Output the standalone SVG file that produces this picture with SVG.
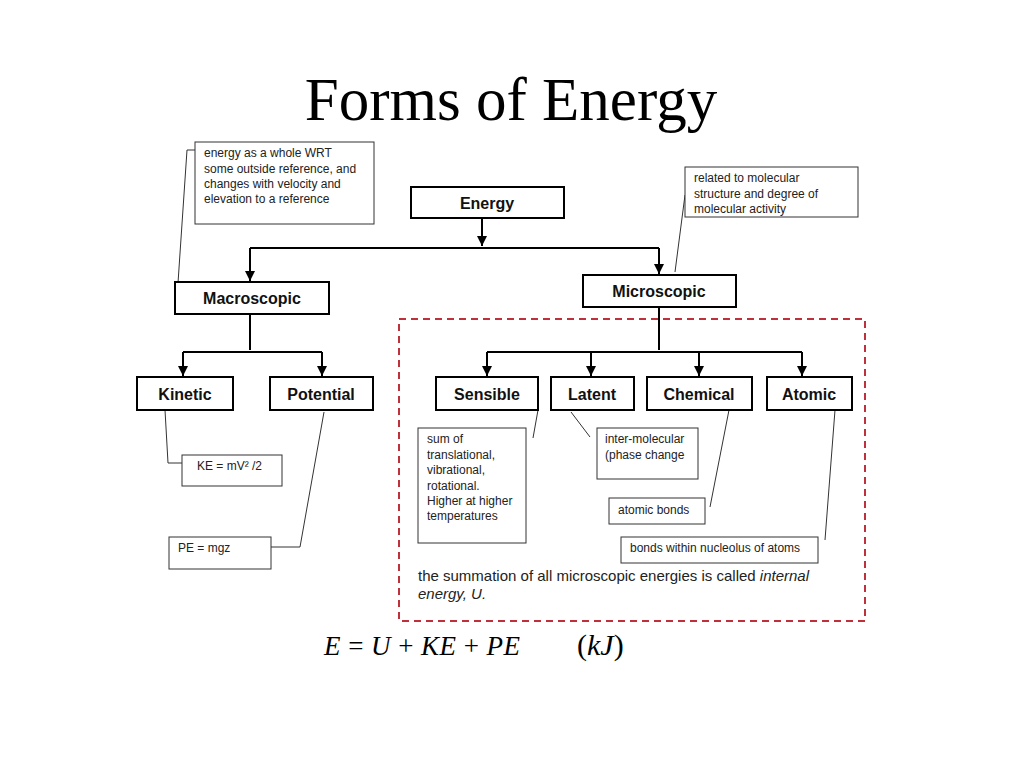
<svg xmlns="http://www.w3.org/2000/svg" width="1024" height="768" viewBox="0 0 1024 768">
<defs>
<marker id="ar" viewBox="0 0 10 10" refX="10" refY="5" markerWidth="5" markerHeight="5" orient="auto"><path d="M0,0L10,5L0,10z" fill="#000"/></marker>
<style>
.n{fill:#fff;stroke:#000;stroke-width:2}
.m{fill:#fff;stroke:#333;stroke-width:1}
.t{font-family:"Liberation Sans",Arial,sans-serif;font-size:16px;font-weight:bold;fill:#111;text-anchor:middle}
.s{font-family:"Liberation Sans",Arial,sans-serif;font-size:12px;fill:#222}
.c{stroke:#000;stroke-width:2;fill:none}
.l{stroke:#333;stroke-width:1;fill:none}
</style>
</defs>
<rect width="1024" height="768" fill="#fff"/>
<text x="511" y="120" font-family="Liberation Serif,serif" font-size="61" text-anchor="middle">Forms of Energy</text>
<rect x="399" y="319" width="466" height="302" fill="none" stroke="#c0303a" stroke-width="2" stroke-dasharray="7,5"/>
<g id="connectors">
<path class="c" d="M482,218V246" marker-end="url(#ar)"/>
<path class="c" d="M250,248H659"/>
<path class="c" d="M250,248V281" marker-end="url(#ar)"/>
<path class="c" d="M659,248V274" marker-end="url(#ar)"/>
<path class="c" d="M250,314V350"/>
<path class="c" d="M183,352H322"/>
<path class="c" d="M183,352V376" marker-end="url(#ar)"/>
<path class="c" d="M322,352V376" marker-end="url(#ar)"/>
<path class="c" d="M659,307V350"/>
<path class="c" d="M487,352H802"/>
<path class="c" d="M487,352V376" marker-end="url(#ar)"/>
<path class="c" d="M591,352V376" marker-end="url(#ar)"/>
<path class="c" d="M699,352V376" marker-end="url(#ar)"/>
<path class="c" d="M802,352V376" marker-end="url(#ar)"/>
<path class="l" d="M178,283L187,150H195"/>
<path class="l" d="M675,272L685,195"/>
<path class="l" d="M165,410L168,463H182"/>
<path class="l" d="M324,412L300,547H271"/>
<path class="l" d="M533,438L538,410"/>
<path class="l" d="M571,412L590,437"/>
<path class="l" d="M710,507L729,410"/>
<path class="l" d="M825,540L835,410"/>
</g>
<g id="note1"><rect class="m" x="195" y="142" width="179" height="82"/>
<text class="s" x="204" y="157">energy as a whole WRT</text><text class="s" x="204" y="173">some outside reference, and</text><text class="s" x="204" y="188">changes with velocity and</text><text class="s" x="204" y="203">elevation to a reference</text></g>
<g id="note2"><rect class="m" x="685" y="167" width="173" height="50"/>
<text class="s" x="694" y="182">related to molecular</text><text class="s" x="694" y="198">structure and degree of</text><text class="s" x="694" y="213">molecular activity</text></g>
<g id="energy"><rect class="n" x="411" y="187" width="153" height="31"/><text class="t" x="487" y="209">Energy</text></g>
<g id="macro"><rect class="n" x="175" y="282" width="154" height="32"/><text class="t" x="252" y="304">Macroscopic</text></g>
<g id="micro"><rect class="n" x="583" y="275" width="153" height="32"/><text class="t" x="659" y="297">Microscopic</text></g>
<g id="kinetic"><rect class="n" x="137" y="377" width="96" height="33"/><text class="t" x="185" y="400">Kinetic</text></g>
<g id="potential"><rect class="n" x="270" y="377" width="103" height="33"/><text class="t" x="321" y="400">Potential</text></g>
<g id="sensible"><rect class="n" x="436" y="377" width="102" height="33"/><text class="t" x="487" y="400">Sensible</text></g>
<g id="latent"><rect class="n" x="551" y="377" width="83" height="33"/><text class="t" x="592" y="400">Latent</text></g>
<g id="chemical"><rect class="n" x="647" y="377" width="105" height="33"/><text class="t" x="699" y="400">Chemical</text></g>
<g id="atomic"><rect class="n" x="767" y="377" width="85" height="33"/><text class="t" x="809" y="400">Atomic</text></g>
<g id="ke"><rect class="m" x="182" y="455" width="100" height="31"/><text class="s" x="197" y="470">KE = mV² /2</text></g>
<g id="pe"><rect class="m" x="169" y="537" width="102" height="32"/><text class="s" x="178" y="552">PE = mgz</text></g>
<g id="sum"><rect class="m" x="418" y="428" width="108" height="115"/>
<text class="s" x="427" y="443">sum of</text><text class="s" x="427" y="459">translational,</text><text class="s" x="427" y="474">vibrational,</text><text class="s" x="427" y="490">rotational.</text><text class="s" x="427" y="505">Higher at higher</text><text class="s" x="427" y="520">temperatures</text></g>
<g id="inter"><rect class="m" x="597" y="428" width="101" height="51"/>
<text class="s" x="605" y="443">inter-molecular</text><text class="s" x="605" y="459">(phase change</text></g>
<g id="bonds"><rect class="m" x="609" y="498" width="96" height="26"/><text class="s" x="618" y="514">atomic bonds</text></g>
<g id="nucleus"><rect class="m" x="621" y="537" width="197" height="26"/><text class="s" x="630" y="552">bonds within nucleolus of atoms</text></g>
<text x="418" y="581" font-family="Liberation Sans,sans-serif" font-size="15" fill="#222">the summation of all microscopic energies is called <tspan font-style="italic">internal</tspan></text>
<text x="418" y="599" font-family="Liberation Sans,sans-serif" font-size="15" fill="#222" font-style="italic">energy, U.</text>
<text x="324" y="655" font-family="Liberation Serif,serif" font-size="27" textLength="196" lengthAdjust="spacing"><tspan font-style="italic">E</tspan> = <tspan font-style="italic">U</tspan> + <tspan font-style="italic">KE</tspan> + <tspan font-style="italic">PE</tspan></text>
<text x="577" y="655" font-family="Liberation Serif,serif" font-size="30">(<tspan font-style="italic">kJ</tspan>)</text>
</svg>
